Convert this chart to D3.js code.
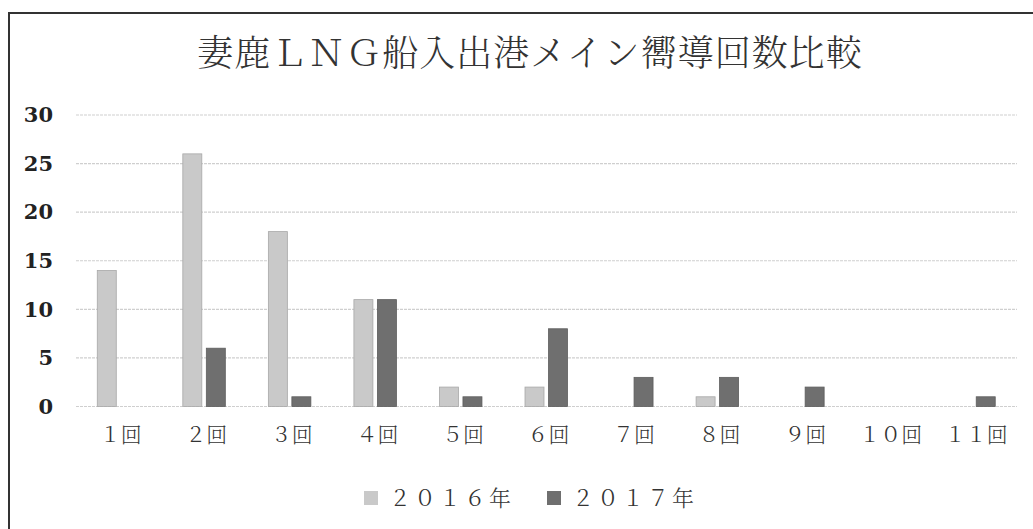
<!DOCTYPE html>
<html>
<head>
<meta charset="utf-8">
<script src="https://cdn.jsdelivr.net/npm/d3@7"></script>
<style>
  body { margin: 0; background: #fff; }
  svg { display: block; }
</style>
</head>
<body>
<div id="chartContainer"></div>
<script>
var categories = ["１回", "２回", "３回", "４回", "５回", "６回", "７回", "８回", "９回", "１０回", "１１回"];
var series2016 = [14, 26, 18, 11, 2, 2, 0, 1, 0, 0, 0];
var series2017 = [0, 6, 1, 11, 1, 8, 3, 3, 2, 0, 1];
var seriesNames = ["２０１６年", "２０１７年"];
var yTicks = [0, 5, 10, 15, 20, 25, 30];
var titleText = "妻鹿ＬＮＧ船入出港メイン嚮導回数比較";

function init() {
    var ww = 1033;
    var h = 529;
    var left = 76, right = 1017, top = 115, bottom = 406.5;
    var cjk = "'Noto Serif CJK JP', 'Noto Sans CJK JP', sans-serif";

    var svg = d3.select("#chartContainer")
        .append("svg")
        .attr("width", ww)
        .attr("height", h);

    // frame (only left and top edges are in the scan)
    svg.append("path")
        .attr("d", "M9,529 L9,13 L1033,13")
        .attr("fill", "none")
        .attr("stroke", "#333")
        .attr("stroke-width", 2);

    svg.append("text")
        .attr("x", 530)
        .attr("y", 66)
        .attr("text-anchor", "middle")
        .attr("font-family", cjk)
        .attr("font-weight", 300)
        .attr("font-size", 36)
        .attr("letter-spacing", 1)
        .attr("fill", "#333")
        .text(titleText);

    var x = d3.scaleBand()
        .domain(categories)
        .range([left, right]);

    var y = d3.scaleLinear()
        .domain([0, 30])
        .range([bottom, top]);

    // gridlines
    svg.append("g")
        .selectAll("line")
        .data(yTicks)
        .enter()
        .append("line")
        .attr("x1", left)
        .attr("x2", right)
        .attr("y1", function(d) { return y(d); })
        .attr("y2", function(d) { return y(d); })
        .attr("stroke", "#cfcfcf")
        .attr("stroke-width", 1.2)
        .attr("stroke-dasharray", "3,1");

    // y axis labels
    var yAxis = d3.axisLeft(y).tickValues(yTicks).tickSize(0).tickPadding(0);
    var gy = svg.append("g")
        .attr("transform", "translate(53,0)")
        .call(yAxis);
    gy.select(".domain").remove();
    gy.selectAll("text")
        .attr("font-family", "'DejaVu Serif', serif")
        .attr("font-weight", "bold")
        .attr("font-size", 21)
        .attr("fill", "#222");

    // x axis labels
    var xAxis = d3.axisBottom(x).tickSize(0).tickPadding(0);
    var gx = svg.append("g")
        .attr("transform", "translate(2,427)")
        .call(xAxis);
    gx.select(".domain").remove();
    gx.selectAll("text")
        .attr("font-family", cjk)
        .attr("font-weight", 300)
        .attr("font-size", 21)
        .attr("fill", "#333");

    var barW = 19;
    var bars = [
        { values: series2016, offset: -21.5, fill: "#c9c9c9", stroke: "#a8a8a8" },
        { values: series2017, offset: 2, fill: "#6f6f6f", stroke: "#5e5e5e" }
    ];

    bars.forEach(function(s) {
        svg.append("g")
            .selectAll("rect")
            .data(s.values)
            .enter()
            .append("rect")
            .attr("x", function(d, i) { return x(categories[i]) + x.bandwidth() / 2 + s.offset; })
            .attr("y", function(d) { return y(d); })
            .attr("width", barW)
            .attr("height", function(d) { return y(0) - y(d); })
            .attr("fill", s.fill)
            .attr("stroke", function(d) { return d > 0 ? s.stroke : "none"; })
            .attr("stroke-width", 0.8);
    });

    // legend
    var legend = [
        { name: seriesNames[0], x: 364, fill: "#c9c9c9" },
        { name: seriesNames[1], x: 547, fill: "#6f6f6f" }
    ];
    var lg = svg.append("g").selectAll("g")
        .data(legend)
        .enter()
        .append("g");
    lg.append("rect")
        .attr("x", function(d) { return d.x; })
        .attr("y", 491)
        .attr("width", 14)
        .attr("height", 14)
        .attr("fill", function(d) { return d.fill; });
    lg.append("text")
        .attr("x", function(d) { return d.x + 25; })
        .attr("y", 506)
        .attr("font-family", cjk)
        .attr("font-weight", 300)
        .attr("font-size", 22)
        .attr("letter-spacing", 3)
        .attr("fill", "#333")
        .text(function(d) { return d.name; });
}

window.onload = init;
</script>
</body>
</html>
